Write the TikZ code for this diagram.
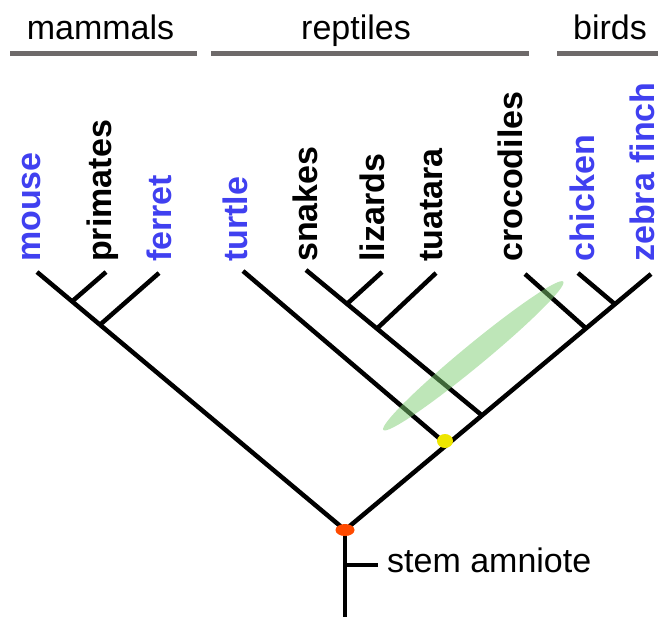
\documentclass[tikz,border=0pt]{standalone}
\usepackage{fontspec}
\setmainfont{Liberation Sans}
\usetikzlibrary{calc}
\definecolor{leafblue}{HTML}{4040F0}
\definecolor{bargray}{HTML}{6E6A6A}
\definecolor{glow}{HTML}{7DCD71}
\definecolor{rootred}{HTML}{FF4A00}
\definecolor{dotyellow}{HTML}{EEE600}

\begin{document}
\begin{tikzpicture}[x=1pt,y=-1pt,font=\fontsize{34}{40}\selectfont,
  branch/.style={line width=4.5pt},
  groupbar/.style={bargray,line width=5pt},
  leaf/.style={rotate=90,anchor=base west,inner sep=0pt,font=\fontsize{34}{40}\selectfont\bfseries},
  group/.style={anchor=base,inner sep=0pt}]
  \useasboundingbox (0,0) rectangle (658,616);
  % clade headers
  \node[group] (mam) at (100.5,39) {mammals};
  \node[group] (rep) at (356,39) {reptiles};
  \node[group] (bir) at (610,39) {birds};
  \draw[groupbar] (10,53) -- (197,53);
  \draw[groupbar] (211,53) -- (529,53);
  \draw[groupbar] (557,53) -- (658,53);
  % leaves
  \foreach \n/\bx/\tx/\ty/\c/\t in {mouse/40.5/37/272/leafblue/mouse,
      primates/111.5/106/272/black/primates, ferret/171/159/273/leafblue/ferret,
      turtle/247/243/271/leafblue/turtle, snakes/317/306/270/black/snakes,
      lizards/384/382/272/black/lizards, tuatara/442/436/273/black/tuatara,
      crocs/522/525/274/black/crocodiles, chicken/594/578/273/leafblue/chicken,
      finch/654/651/274/leafblue/zebra finch} {
    \node[leaf,text=\c] (\n) at (\bx,262) {\t};
    \coordinate (\n-tip) at (\tx,\ty);
  }
  % junctions
  \coordinate (root) at (345,530);
  \coordinate (mj1) at ($(mouse-tip)!0.114!(root)$);
  \coordinate (mj2) at ($(mouse-tip)!0.2045!(root)$);
  \coordinate (rj1) at ($(root)!0.333!(finch-tip)$);
  \coordinate (rj2) at ($(root)!0.4477!(finch-tip)$);
  \coordinate (rj3) at ($(root)!0.7876!(finch-tip)$);
  \coordinate (rj4) at ($(root)!0.882!(finch-tip)$);
  \coordinate (sj1) at ($(snakes-tip)!0.233!(rj2)$);
  \coordinate (sj2) at ($(snakes-tip)!0.403!(rj2)$);
  \coordinate (base) at (345,622);
  \coordinate (stem) at (345,565);
  \coordinate (stem-end) at (378,565);
  % tree
  \draw[branch] (mouse-tip) -- (root);
  \draw[branch] (root) -- (finch-tip);
  \draw[branch] (primates-tip) -- (mj1);
  \draw[branch] (ferret-tip) -- (mj2);
  \draw[branch] (turtle-tip) -- (rj1);
  \draw[branch] (snakes-tip) -- (rj2);
  \draw[branch] (lizards-tip) -- (sj1);
  \draw[branch] (tuatara-tip) -- (sj2);
  \draw[branch] (crocs-tip) -- (rj3);
  \draw[branch] (chicken-tip) -- (rj4);
  \draw[branch] (root) -- (base);
  \draw[branch] (stem) -- (stem-end);
  \node[anchor=base west,inner sep=0pt] (stemlabel) at (387,572) {stem amniote};
  % highlight and nodes
  \fill[glow,opacity=0.5,rotate around={39.5:(473.3,355.8)}] (473.3,355.8) ellipse [x radius=116.6pt,y radius=11pt];
  \fill[rootred] (root) ellipse [x radius=9.5pt,y radius=6pt];
  \fill[dotyellow] (445,441) ellipse [x radius=8pt,y radius=7pt];
\end{tikzpicture}
\end{document}
